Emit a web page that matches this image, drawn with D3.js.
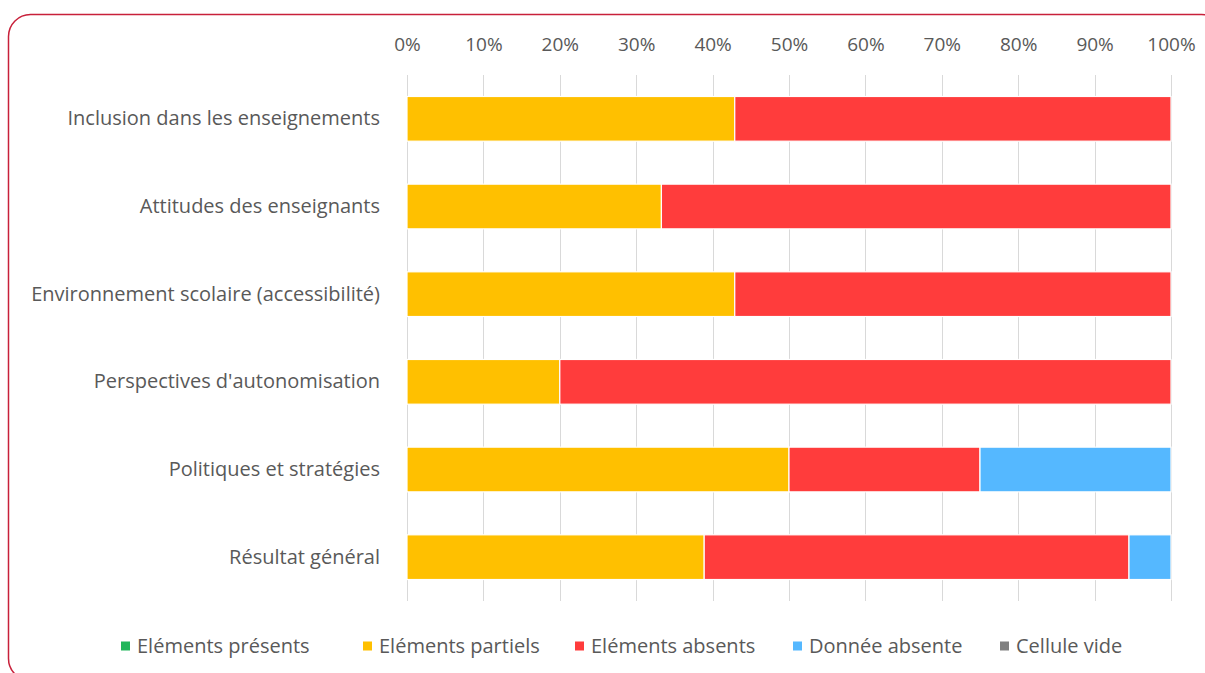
<!DOCTYPE html>
<html>
<head>
<meta charset="utf-8">
<script src="https://cdn.jsdelivr.net/npm/d3@7"></script>
<style>
  body { margin: 0; background: #fff; }
  text { font-family: "Open Sans", sans-serif; fill: #595959; }
</style>
</head>
<body>
<svg class="chart" width="1205" height="673"></svg>
<script>

// Chart data (share of elements per domain, in %).
var categories = ["Inclusion dans les enseignements", "Attitudes des enseignants",
    "Environnement scolaire (accessibilité)", "Perspectives d'autonomisation",
    "Politiques et stratégies", "Résultat général"];
var present = [0, 0, 0, 0, 0, 0];
var partial = [42.9, 33.3, 42.9, 20, 50, 38.9];
var absent = [57.1, 66.7, 57.1, 80, 25, 55.6];
var missing = [0, 0, 0, 0, 25, 5.5];
var empty = [0, 0, 0, 0, 0, 0];
var ticks = [0, 10, 20, 30, 40, 50, 60, 70, 80, 90, 100];

var seriesNames = ["Eléments présents", "Eléments partiels", "Eléments absents",
    "Donnée absente", "Cellule vide"];
var seriesColors = ["#21B65A", "#FFC000", "#FF3C3C", "#55B8FF", "#808080"];

var svg = d3.select(".chart");

// Red rounded frame around the chart.
svg.append("rect")
    .attr("x", 8.5)
    .attr("y", 14.5)
    .attr("width", 1215)
    .attr("height", 666)
    .attr("rx", 22)
    .attr("fill", "none")
    .attr("stroke", "#C8203A")
    .attr("stroke-width", 1.5);

var margin = {top: 75, left: 407},
    width = 764,
    height = 526;

var chart = svg.append("g")
    .attr("transform", "translate(" + margin.left + "," + margin.top + ")");

var x = d3.scaleLinear()
    .domain([0, 100])
    .range([0, width]);

var y = d3.scaleBand()
    .domain(categories)
    .range([0, height])
    .paddingInner(0.49)
    .paddingOuter(0.245);

// Gridlines.
chart.selectAll(".grid")
    .data(ticks)
  .enter().append("line")
    .attr("class", "grid")
    .attr("x1", function(d) { return Math.round(x(d)) + 0.5; })
    .attr("x2", function(d) { return Math.round(x(d)) + 0.5; })
    .attr("y1", 0)
    .attr("y2", height)
    .attr("stroke", "#D9D9D9")
    .attr("stroke-width", 1);

// Top axis with percent labels.
var xAxis = chart.append("g")
    .attr("class", "x axis")
    .call(d3.axisTop(x).tickValues(ticks).tickSize(0).tickPadding(24)
        .tickFormat(function(d) { return d + "%"; }));
xAxis.select(".domain").remove();
xAxis.selectAll("text")
    .style("font-size", "19px")
    .attr("fill", null);

// Stack the series.
var rows = categories.map(function(c, i) {
  return {cat: c, 0: present[i], 1: partial[i], 2: absent[i], 3: missing[i], 4: empty[i]};
});
var stacked = d3.stack().keys([0, 1, 2, 3, 4])(rows);

chart.selectAll(".series")
    .data(stacked)
  .enter().append("g")
    .attr("class", "series")
    .attr("fill", function(d, i) { return seriesColors[i]; })
  .selectAll("rect")
    .data(function(d) { return d; })
  .enter().append("rect")
    .filter(function(d) { return d[1] - d[0] > 0; })
    .attr("x", function(d) { return x(d[0]); })
    .attr("y", function(d) { return y(d.data.cat); })
    .attr("width", function(d) { return x(d[1]) - x(d[0]); })
    .attr("height", y.bandwidth())
    .attr("stroke", "#fff")
    .attr("stroke-width", 1.2);

// Category labels on the left.
var yAxis = chart.append("g")
    .attr("class", "y axis")
    .call(d3.axisLeft(y).tickSize(0).tickPadding(27));
yAxis.select(".domain").remove();
yAxis.selectAll("text")
    .style("font-size", "20px")
    .attr("fill", null);

// Legend.
var legendX = [121, 363, 575, 793, 1000];
var legend = svg.append("g")
    .attr("class", "legend")
  .selectAll("g")
    .data(seriesNames)
  .enter().append("g")
    .attr("transform", function(d, i) { return "translate(" + legendX[i] + ",646)"; });

legend.append("rect")
    .attr("x", 0)
    .attr("y", -4.5)
    .attr("width", 9)
    .attr("height", 9)
    .attr("fill", function(d, i) { return seriesColors[i]; });

legend.append("text")
    .attr("x", 16)
    .attr("dy", "0.35em")
    .style("font-size", "20px")
    .text(function(d) { return d; });
</script>
</body>
</html>
